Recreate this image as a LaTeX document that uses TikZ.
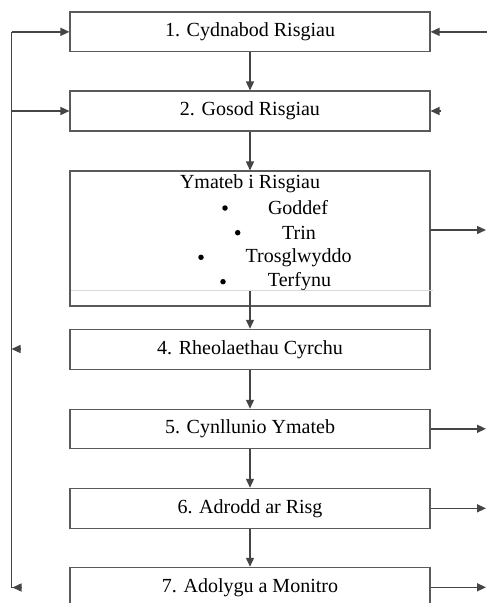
\documentclass[tikz,border=0pt]{standalone}
\usepackage{fontspec}
\setmainfont{Liberation Serif}
\usetikzlibrary{arrows.meta}
\definecolor{ln}{HTML}{454545}
\definecolor{bx}{HTML}{5A5A5A}
\begin{document}
\begin{tikzpicture}[x=1pt,y=-1pt,
  box/.style={draw=bx,line width=1.1pt,fill=white,minimum width=360pt,inner sep=0pt,font=\fontsize{20}{24}\selectfont,text=black},
  conn/.style={draw=ln,line width=1.4pt,-{Triangle[length=9pt,width=8pt]}},
  plain/.style={draw=ln,line width=1.4pt},
  txt/.style={font=\fontsize{20}{24}\selectfont,inner sep=0pt,text=black},
  dot/.style={circle,fill=black,inner sep=0pt,minimum size=5.5pt}]
\clip (0,0) rectangle (487,603);
\fill[white] (0,0) rectangle (487,603);
\node[box,minimum height=39.7pt] (b1) at (250,31.85) {1. Cydnabod Risgiau};
\node[box,minimum height=40pt] (b2) at (250,111) {2. Gosod Risgiau};
\node[box,minimum height=135pt] (b3) at (250,238.5) {};
\node[box,minimum height=40pt] (b4) at (250,349.3) {4. Rheolaethau Cyrchu};
\node[box,minimum height=39pt] (b5) at (250,428.8) {5. Cynllunio Ymateb};
\node[box,minimum height=40pt] (b6) at (250,508.3) {6. Adrodd ar Risg};
\node[box,minimum height=40pt] (b7) at (250,587.3) {7. Adolygu a Monitro};
% box 3 contents
\node[txt] (t0) at (250,184) {Ymateb i Risgiau};
\node[txt] (t1) at (298,208) {Goddef};
\node[txt] (t2) at (299,232.7) {Trin};
\node[txt] (t3) at (298.7,257.3) {Trosglwyddo};
\node[txt] (t4) at (299.5,281.7) {Terfynu};
\node[dot] (d1) at (225,208) {};
\node[dot] (d2) at (237.7,232.7) {};
\node[dot] (d3) at (201,257.3) {};
\node[dot] (d4) at (223,281.7) {};
\coordinate (gl) at (71,290.7);
\coordinate (gr) at (433,290.7);
\draw[color=black!15,line width=1.3pt] (gl) -- (gr);
\coordinate (g3) at (250,290.7);
% vertical connectors
\draw[conn] (b1.south) -- (b2.north);
\draw[conn] (b2.south) -- (b3.north);
\draw[conn] (g3) -- (b4.north);
\draw[conn] (b4.south) -- (b5.north);
\draw[conn] (b5.south) -- (b6.north);
\draw[conn] (b6.south) -- (b7.north);
% left loop
\coordinate (ltop) at (11.5,31.85);
\coordinate (lbot) at (11.5,587.5);
\coordinate (lbe) at (22,587.5);
\coordinate (lmid) at (11.5,349);
\coordinate (lmidb) at (21,349);
\draw[plain] (lbot) -- (ltop);
\draw[conn] (ltop) -- (b1.west);
\draw[conn] (b2.west -| ltop) -- (b2.west);
\draw[conn] (lmidb) -- (lmid);
\draw[plain] (lbot) -- (lbe);
\coordinate (lbt) at (12.5,587.5);
\draw[conn] (lbe) -- (lbt);
% right side
\coordinate (r1) at (487,31.85);
\draw[conn] (r1) -- (b1.east);
\coordinate (r2) at (441,111);
\draw[conn] (r2) -- (b2.east);
\coordinate (r3s) at (430,230);
\coordinate (r3) at (486,230);
\draw[conn] (r3s) -- (r3);
\coordinate (r5) at (486,428.8);
\draw[conn] (b5.east) -- (r5);
\coordinate (r6) at (486,508.3);
\draw[conn] (b6.east) -- (r6);
\coordinate (r7) at (486,587.3);
\draw[conn] (b7.east) -- (r7);
\end{tikzpicture}
\end{document}
